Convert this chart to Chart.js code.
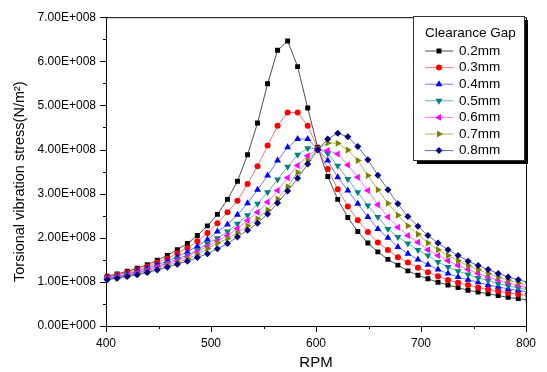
<!DOCTYPE html>
<html>
<head>
<meta charset="utf-8">
<script src="https://cdn.jsdelivr.net/npm/chart.js@4.4.1/dist/chart.umd.min.js"></script>
<style>
  html, body { margin: 0; padding: 0; background: #fff; }
  canvas { display: block; }
</style>
</head>
<body>
<canvas id="chart" width="547" height="372"></canvas>
<script>
// shaft speed, one sample per rad/s (42..84 rad/s)
const rpm = [401.1, 410.6, 420.2, 429.7, 439.3, 448.8, 458.4, 467.9, 477.5, 487.0,
  496.6, 506.1, 515.7, 525.2, 534.8, 544.3, 553.9, 563.4, 573.0, 582.5,
  592.1, 601.6, 611.2, 620.7, 630.3, 639.8, 649.4, 658.9, 668.5, 678.0,
  687.5, 697.1, 706.6, 716.2, 725.7, 735.3, 744.8, 754.4, 763.9, 773.5,
  783.0, 792.6, 802.1];

// torsional vibration stress, in units of 1E+008 N/m^2
const gap02 = [1.13, 1.18, 1.24, 1.31, 1.39, 1.49, 1.60, 1.73, 1.87, 2.05, 2.27, 2.53, 2.87, 3.28, 3.88, 4.60, 5.49, 6.25, 6.46, 5.88, 4.94, 4.05,
  3.39, 2.87, 2.46, 2.14, 1.88, 1.68, 1.51, 1.38, 1.25, 1.15, 1.07, 0.99, 0.93, 0.87, 0.81, 0.77, 0.73, 0.69, 0.65, 0.62, 0.59];
const gap03 = [1.11, 1.16, 1.21, 1.27, 1.35, 1.44, 1.53, 1.65, 1.77, 1.92, 2.11, 2.33, 2.58, 2.84, 3.22, 3.62, 4.09, 4.54, 4.84, 4.84, 4.54, 4.03,
  3.56, 3.10, 2.71, 2.40, 2.13, 1.89, 1.72, 1.56, 1.44, 1.32, 1.22, 1.13, 1.04, 0.98, 0.93, 0.87, 0.83, 0.79, 0.75, 0.72, 0.69];
const gap04 = [1.09, 1.13, 1.18, 1.24, 1.31, 1.39, 1.47, 1.57, 1.68, 1.81, 1.96, 2.14, 2.30, 2.52, 2.78, 3.09, 3.41, 3.75, 4.05, 4.24, 4.24, 4.01,
  3.75, 3.37, 3.07, 2.77, 2.47, 2.20, 2.00, 1.79, 1.64, 1.51, 1.39, 1.28, 1.19, 1.11, 1.05, 0.99, 0.93, 0.89, 0.84, 0.81, 0.77];
const gap05 = [1.08, 1.12, 1.16, 1.21, 1.27, 1.35, 1.43, 1.52, 1.61, 1.72, 1.87, 1.99, 2.14, 2.32, 2.51, 2.77, 3.03, 3.32, 3.61, 3.88, 4.03, 4.02,
  3.91, 3.63, 3.33, 3.03, 2.73, 2.47, 2.20, 2.02, 1.87, 1.72, 1.60, 1.45, 1.34, 1.24, 1.17, 1.09, 1.03, 0.96, 0.91, 0.86, 0.82];
const gap06 = [1.07, 1.11, 1.15, 1.20, 1.26, 1.33, 1.40, 1.48, 1.57, 1.68, 1.81, 1.93, 2.05, 2.21, 2.39, 2.58, 2.81, 3.07, 3.36, 3.64, 3.86, 4.01,
  3.98, 3.90, 3.65, 3.37, 3.07, 2.75, 2.47, 2.24, 2.05, 1.90, 1.73, 1.60, 1.48, 1.37, 1.28, 1.19, 1.11, 1.04, 0.98, 0.92, 0.87];
const gap07 = [1.06, 1.09, 1.14, 1.18, 1.23, 1.30, 1.37, 1.44, 1.52, 1.62, 1.75, 1.88, 1.98, 2.11, 2.27, 2.43, 2.63, 2.88, 3.16, 3.48, 3.75, 4.01,
  4.15, 4.14, 3.99, 3.75, 3.41, 3.09, 2.78, 2.51, 2.27, 2.08, 1.88, 1.73, 1.60, 1.48, 1.37, 1.28, 1.19, 1.11, 1.04, 0.98, 0.93];
const gap08 = [1.05, 1.08, 1.12, 1.16, 1.21, 1.27, 1.33, 1.40, 1.47, 1.55, 1.64, 1.75, 1.87, 2.02, 2.17, 2.33, 2.54, 2.79, 3.06, 3.35, 3.67, 3.99,
  4.24, 4.37, 4.29, 4.07, 3.77, 3.42, 3.09, 2.77, 2.48, 2.26, 2.05, 1.88, 1.73, 1.60, 1.47, 1.37, 1.28, 1.19, 1.11, 1.05, 0.99];

const gapLabels = ['0.2mm', '0.3mm', '0.4mm', '0.5mm', '0.6mm', '0.7mm', '0.8mm'];
const legendTitle = 'Clearance Gap';
const xTicks = [400, 500, 600, 700, 800];
const yTickLabels = ['0.00E+000', '1.00E+008', '2.00E+008', '3.00E+008', '4.00E+008', '5.00E+008', '6.00E+008', '7.00E+008'];

const series = [gap02, gap03, gap04, gap05, gap06, gap07, gap08];

const FONT = '"Liberation Sans", Arial, sans-serif';

// origin-like symbols: square, circle, up / down / left / right triangle, diamond
const looks = [
  { color: '#000000', line: 'rgba(0,0,0,0.7)', style: 'rect', rot: 0, r: 3.5 },
  { color: '#ff0000', line: 'rgba(255,0,0,0.55)', style: 'circle', rot: 0, r: 3 },
  { color: '#0000ff', line: 'rgba(0,0,255,0.55)', style: 'triangle', rot: 0, r: 4 },
  { color: '#008080', line: 'rgba(0,128,128,0.6)', style: 'triangle', rot: 180, r: 4 },
  { color: '#ff00ff', line: 'rgba(255,0,255,0.55)', style: 'triangle', rot: 270, r: 4 },
  { color: '#808000', line: 'rgba(128,128,0,0.6)', style: 'triangle', rot: 90, r: 4 },
  { color: '#000080', line: 'rgba(0,0,128,0.6)', style: 'rectRot', rot: 0, r: 3.5 },
];

const datasets = series.map((vals, i) => ({
  label: gapLabels[i],
  data: rpm.map((x, j) => ({ x: x, y: vals[j] })),
  borderColor: looks[i].line,
  borderWidth: 1,
  backgroundColor: looks[i].color,
  pointBackgroundColor: looks[i].color,
  pointBorderColor: looks[i].color,
  pointBorderWidth: 0,
  pointRadius: looks[i].r,
  pointStyle: looks[i].style,
  pointRotation: looks[i].rot,
  tension: 0,
  order: series.length - 1 - i,
  clip: { left: 8, top: 8, right: 0, bottom: 8 },
}));

// top/right frame plus major and minor outward ticks
const frameTicks = {
  id: 'frameTicks',
  beforeDatasetsDraw(chart) {
    const { ctx, chartArea: a, scales: { x, y } } = chart;
    ctx.save();
    ctx.strokeStyle = '#000';
    ctx.lineWidth = 1;
    ctx.beginPath();
    ctx.moveTo(a.left, a.top + 0.5);
    ctx.lineTo(a.right + 0.5, a.top + 0.5);
    ctx.lineTo(a.right + 0.5, a.bottom);
    for (let v = 400; v <= 800; v += 50) {
      const px = Math.round(x.getPixelForValue(v)) + 0.5;
      const len = v % 100 === 0 ? 6 : 3;
      ctx.moveTo(px, a.bottom);
      ctx.lineTo(px, a.bottom + len);
    }
    for (let v = 0; v <= 7; v += 0.5) {
      const py = Math.round(y.getPixelForValue(v)) + 0.5;
      const len = v % 1 === 0 ? 6 : 3;
      ctx.moveTo(a.left, py);
      ctx.lineTo(a.left - len, py);
    }
    ctx.stroke();
    ctx.restore();
  }
};

// boxed legend with drop shadow, top right of the plot
const boxLegend = {
  id: 'boxLegend',
  afterDraw(chart) {
    const ctx = chart.ctx;
    const bx = 413, by = 16, bw = 111, bh = 144;
    ctx.save();
    ctx.fillStyle = '#000';
    ctx.fillRect(bx + 4, by + 4, bw, bh);
    ctx.fillStyle = '#fff';
    ctx.fillRect(bx, by, bw, bh);
    ctx.strokeStyle = '#333';
    ctx.lineWidth = 1;
    ctx.strokeRect(bx + 0.5, by + 0.5, bw, bh);
    ctx.font = '13.5px ' + FONT;
    ctx.textBaseline = 'middle';
    ctx.fillStyle = '#000';
    ctx.fillText(legendTitle, 425, 33);
    chart.data.datasets.forEach((ds, i) => {
      const yy = 51 + i * 16.6;
      ctx.strokeStyle = ds.borderColor;
      ctx.beginPath();
      ctx.moveTo(425, yy);
      ctx.lineTo(453, yy);
      ctx.stroke();
      ctx.fillStyle = ds.pointBackgroundColor;
      Chart.helpers.drawPoint(ctx, {
        pointStyle: ds.pointStyle, rotation: ds.pointRotation,
        radius: ds.pointRadius, borderWidth: 0
      }, 439, yy);
      ctx.fillStyle = '#000';
      ctx.fillText(ds.label, 459, yy);
    });
    ctx.restore();
  }
};

new Chart(document.getElementById('chart'), {
  type: 'line',
  data: { datasets: datasets },
  options: {
    responsive: false,
    animation: false,
    layout: { padding: { top: 16, right: 21, left: 0, bottom: 0 } },
    plugins: { legend: { display: false }, tooltip: { enabled: false } },
    scales: {
      x: {
        type: 'linear',
        min: 400, max: 800,
        afterFit(scale) { scale.height = 46; },
        afterBuildTicks(scale) { scale.ticks = xTicks.map(v => ({ value: v })); },
        ticks: { padding: 10, color: '#000', font: { family: FONT, size: 12 }, maxRotation: 0, autoSkip: false },
        grid: { display: false, drawTicks: false },
        border: { display: true, color: '#000', width: 1 },
        title: { display: true, text: 'RPM', color: '#000', font: { family: FONT, size: 15 }, padding: 0 }
      },
      y: {
        min: 0, max: 7,
        afterFit(scale) { scale.width = 106; },
        ticks: {
          stepSize: 1, padding: 10, color: '#000', font: { family: FONT, size: 12 },
          callback: v => yTickLabels[v]
        },
        grid: { display: false, drawTicks: false },
        border: { display: true, color: '#000', width: 1 },
        // trailing spaces push the rotated title a little lower, as in the original
        title: { display: true, text: 'Torsional vibration stress(N/m²)     ', color: '#000', font: { family: FONT, size: 14.5 }, padding: { top: 11, bottom: 0 } }
      }
    }
  },
  plugins: [frameTicks, boxLegend]
});
</script>
</body>
</html>
